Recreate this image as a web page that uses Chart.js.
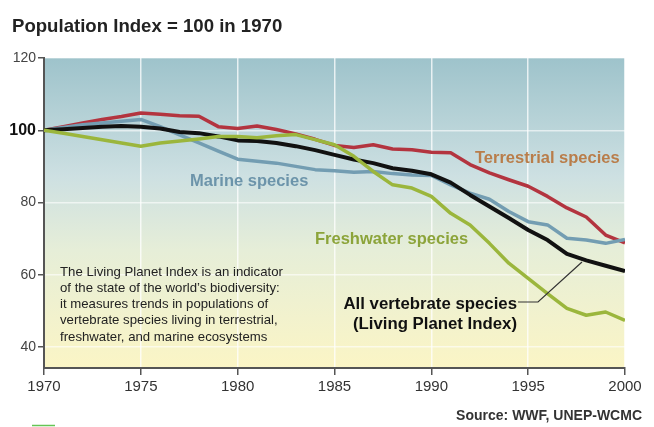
<!DOCTYPE html>
<html><head><meta charset="utf-8">
<script src="https://cdn.jsdelivr.net/npm/chart.js@4.4.0/dist/chart.umd.min.js"></script>
<style>html,body{margin:0;padding:0;background:#fff;}#wrap{width:654px;height:427px;position:relative;}</style>
</head><body><div id="wrap"><canvas id="c" width="654" height="427"></canvas></div>
<script>
const years = [1970,1971,1972,1973,1974,1975,1976,1977,1978,1979,1980,1981,1982,1983,1984,1985,1986,1987,1988,1989,1990,1991,1992,1993,1994,1995,1996,1997,1998,1999,2000];
const terrestrial = [100,101,102,103,103.8,104.8,104.4,104,103.9,101,100.5,101.2,100.2,99,97.5,95.8,95.2,96,94.8,94.6,93.9,93.8,90.5,88.2,86.3,84.5,81.7,78.5,76,71,68.8];
const marine = [100,100.8,101.5,102,102.5,103,101,98.7,96.5,94.2,92,91.4,90.9,90,89.1,88.8,88.4,88.6,88,87.6,87.5,84.9,82.6,80.9,77.5,74.7,73.8,70.1,69.6,68.7,69.8];
const freshwater = [100,99.2,98.3,97.4,96.5,95.6,96.5,97,97.6,98.3,98.3,97.9,98.5,98.8,97.4,96,92.8,88.6,84.9,84,81.7,77,73.8,68.7,63.2,59,54.8,50.7,48.8,49.7,47.4];
const allSpecies = [100,100.3,100.6,101,101.2,101,100.5,99.5,99.2,98.3,97.2,97,96.5,95.6,94.5,93.2,91.9,90.9,89.5,88.8,87.8,85.5,82.1,78.9,75.7,72.4,69.6,65.8,64,62.5,61];
const yTicks = [40,60,80,100,120];
const xTicks = [1970,1975,1980,1985,1990,1995,2000];
const note = ["The Living Planet Index is an indicator","of the state of the world\u2019s biodiversity:","it measures trends in populations of","vertebrate species living in terrestrial,","freshwater, and marine ecosystems"];

const pts = arr => years.map((y,i)=>({x:y,y:arr[i]}));
const F = 'Arial, "Liberation Sans", sans-serif';

const bgPlugin = {
  id:'bg',
  beforeDraw(chart){
    const {ctx, chartArea:a} = chart;
    const g = ctx.createLinearGradient(0,a.top,0,a.bottom);
    g.addColorStop(0,'#9ec3cb');
    g.addColorStop(0.38,'#cde0e2');
    g.addColorStop(0.62,'#e6eed8');
    g.addColorStop(1,'#fbf5c5');
    ctx.save();
    ctx.fillStyle = g;
    ctx.fillRect(a.left,a.top,a.right-a.left,a.bottom-a.top);
    ctx.restore();
  },
  afterDraw(chart){
    const ctx = chart.ctx;
    ctx.save();
    ctx.textBaseline='alphabetic';
    ctx.fillStyle='#222';
    ctx.font='bold 18.6px '+F;
    ctx.textAlign='left';
    ctx.fillText('Population Index = 100 in 1970',12,32);
    ctx.font='bold 16.5px '+F;
    ctx.fillStyle='#b97d4a';
    ctx.fillText('Terrestrial species',475,163);
    ctx.fillStyle='#6c94aa';
    ctx.fillText('Marine species',190,186);
    ctx.fillStyle='#8ca43a';
    ctx.fillText('Freshwater species',315,244);
    ctx.fillStyle='#111';
    ctx.font='bold 16.8px '+F;
    ctx.textAlign='right';
    ctx.fillText('All vertebrate species',517,309);
    ctx.fillText('(Living Planet Index)',517,329);
    ctx.strokeStyle='#333';
    ctx.lineWidth=1.2;
    ctx.beginPath();
    ctx.moveTo(518,302);ctx.lineTo(538,302);ctx.lineTo(582,262);
    ctx.stroke();
    ctx.textAlign='left';
    ctx.fillStyle='#222';
    ctx.font='13.2px '+F;
    note.forEach((t,i)=>ctx.fillText(t,60,275.5+i*16.3));
    ctx.textAlign='right';
    ctx.fillStyle='#333';
    ctx.font='bold 14px '+F;
    ctx.fillText('Source: WWF, UNEP-WCMC',642,420);
    ctx.strokeStyle='#66c455';
    ctx.lineWidth=1.5;
    ctx.beginPath();ctx.moveTo(32,425.5);ctx.lineTo(55,425.5);ctx.stroke();
    ctx.restore();
  }
};

const ds = (label,arr,color,order,w)=>({label,data:pts(arr),borderColor:color,borderWidth:w,pointRadius:0,tension:0,fill:false,order,borderJoinStyle:'round'});

new Chart(document.getElementById('c'),{
  type:'line',
  data:{datasets:[
    ds('Freshwater species',freshwater,'#9bb63c',1,3.5),
    ds('All vertebrate species',allSpecies,'#111111',2,4),
    ds('Marine species',marine,'#739db2',3,3.5),
    ds('Terrestrial species',terrestrial,'#b3343f',4,3.5)
  ]},
  options:{
    responsive:false,animation:false,
    layout:{padding:{top:58,right:29,left:0,bottom:0}},
    plugins:{legend:{display:false},tooltip:{enabled:false}},
    scales:{
      x:{type:'linear',min:1970,max:2000,
        afterBuildTicks(s){s.ticks=xTicks.map(v=>({value:v}));},
        afterFit(s){s.height=59;},
        grid:{color:'rgba(255,255,255,0.75)',lineWidth:1.5,tickColor:'#555',tickLength:7,drawOnChartArea:true},
        border:{color:'#555',width:2},
        ticks:{color:'#333',font:{size:15,family:F},padding:3,maxRotation:0,callback:v=>String(v)}
      },
      y:{min:34.2,max:120,
        afterBuildTicks(s){s.ticks=yTicks.map(v=>({value:v}));},
        afterFit(s){s.width=44;},
        grid:{color:'rgba(255,255,255,0.6)',lineWidth:1.5,tickColor:'#555',tickLength:6},
        border:{color:'#555',width:2},
        ticks:{padding:2,
          color:c=>c.tick && c.tick.value===100?'#111':'#444',
          font:c=>c.tick && c.tick.value===100?{size:16,weight:'bold',family:F}:{size:14,family:F},
          callback:v=>String(v)}
      }
    }
  },
  plugins:[bgPlugin]
});
</script></body></html>
